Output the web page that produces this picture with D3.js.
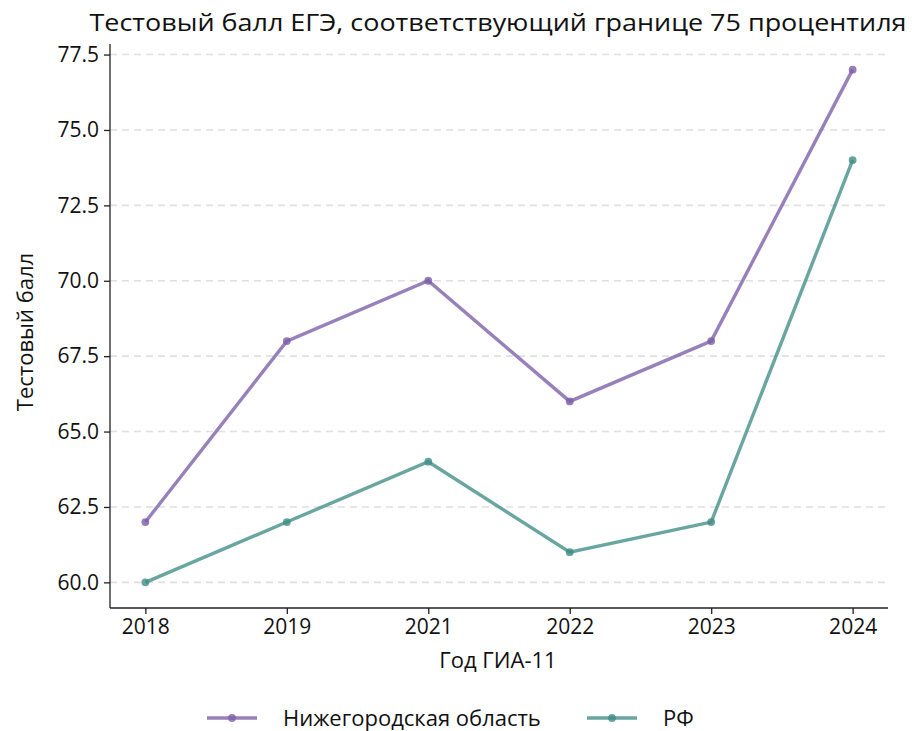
<!DOCTYPE html>
<html>
<head>
<meta charset="utf-8">
<script src="https://cdn.jsdelivr.net/npm/d3@7"></script>
<style>
  body { margin: 0; background: #fff; }
  text { font-family: "Open Sans", "Noto Sans", sans-serif; fill: #111; }
</style>
</head>
<body>
<div id="chart"></div>
<script>
const years = ['2018', '2019', '2021', '2022', '2023', '2024'];
const regionScores = [62, 68, 70, 66, 68, 77];
const russiaScores = [60, 62, 64, 61, 62, 74];
const yTicks = [60, 62.5, 65, 67.5, 70, 72.5, 75, 77.5];
const seriesNames = ['Нижегородская область', 'РФ'];

const W = 914, H = 731;
const margin = { top: 44, right: 26, bottom: 123, left: 110 };
const width = W - margin.left - margin.right;
const height = H - margin.top - margin.bottom;

const svg = d3.select('#chart').append('svg')
  .attr('width', W).attr('height', H);

const g = svg.append('g')
  .attr('transform', `translate(${margin.left},${margin.top})`);

// x: point scale with 5% padding like matplotlib
const x = d3.scalePoint().domain(years).range([0, width]).padding(0.25);
const y = d3.scaleLinear().domain([59.15, 77.85]).range([height, 0]);

// grid
g.append('g').selectAll('line').data(yTicks).join('line')
  .attr('x1', 0).attr('x2', width)
  .attr('y1', d => y(d)).attr('y2', d => y(d))
  .attr('stroke', '#e0e0e0').attr('stroke-width', 1.6)
  .attr('stroke-dasharray', '7,5');

// axes
const xAxis = g.append('g').attr('transform', `translate(0,${height})`)
  .call(d3.axisBottom(x).tickSizeOuter(0).tickSize(6).tickPadding(5));
const yAxis = g.append('g')
  .call(d3.axisLeft(y).tickValues(yTicks).tickFormat(d3.format('.1f')).tickSizeOuter(0).tickSize(6).tickPadding(5));

[xAxis, yAxis].forEach(a => {
  a.select('.domain').attr('stroke', '#222').attr('stroke-width', 1.3);
  a.selectAll('.tick line').attr('stroke', '#222').attr('stroke-width', 1.3);
  a.selectAll('.tick text').style('font-size', '21px').style('font-family', '"Open Sans", sans-serif').attr('fill', '#111');
});
yAxis.select('.domain').attr('d', `M0,0V${height}`);
xAxis.select('.domain').attr('d', `M0,0H${width}`);

const series = [
  { name: seriesNames[0], values: regionScores, color: '#7b5ea7' },
  { name: seriesNames[1], values: russiaScores, color: '#3f8c86' }
];

const line = d3.line().x((d, i) => x(years[i])).y(d => y(d));

series.forEach(s => {
  g.append('path').datum(s.values)
    .attr('fill', 'none').attr('stroke', s.color)
    .attr('stroke-opacity', 0.78).attr('stroke-width', 3.4)
    .attr('d', line);
  g.append('g').selectAll('circle').data(s.values).join('circle')
    .attr('cx', (d, i) => x(years[i])).attr('cy', d => y(d))
    .attr('r', 3.9).attr('fill', s.color).attr('fill-opacity', 0.8);
});

// title and labels
svg.append('text').attr('x', 498).attr('y', 31)
  .attr('text-anchor', 'middle').style('font-size', '23px')
  .attr('textLength', 817).attr('lengthAdjust', 'spacingAndGlyphs')
  .text('Тестовый балл ЕГЭ, соответствующий границе 75 процентиля');

svg.append('text').attr('x', 498).attr('y', 668)
  .attr('text-anchor', 'middle').style('font-size', '22px')
  .text('Год ГИА-11');

svg.append('text')
  .attr('transform', `translate(33,332) rotate(-90)`)
  .attr('text-anchor', 'middle').style('font-size', '22px')
  .text('Тестовый балл');

// legend
const legendX = [207, 587];
series.forEach((s, i) => {
  const lg = svg.append('g').attr('transform', `translate(${legendX[i]},718)`);
  lg.append('line').attr('x1', 0).attr('x2', 50).attr('y1', 0).attr('y2', 0)
    .attr('stroke', s.color).attr('stroke-opacity', 0.78).attr('stroke-width', 3.4);
  lg.append('circle').attr('cx', 25).attr('cy', 0).attr('r', 3.9)
    .attr('fill', s.color).attr('fill-opacity', 0.8);
  lg.append('text').attr('x', 76).attr('y', 8).style('font-size', '22px')
    .text(s.name);
});
</script>
</body>
</html>
